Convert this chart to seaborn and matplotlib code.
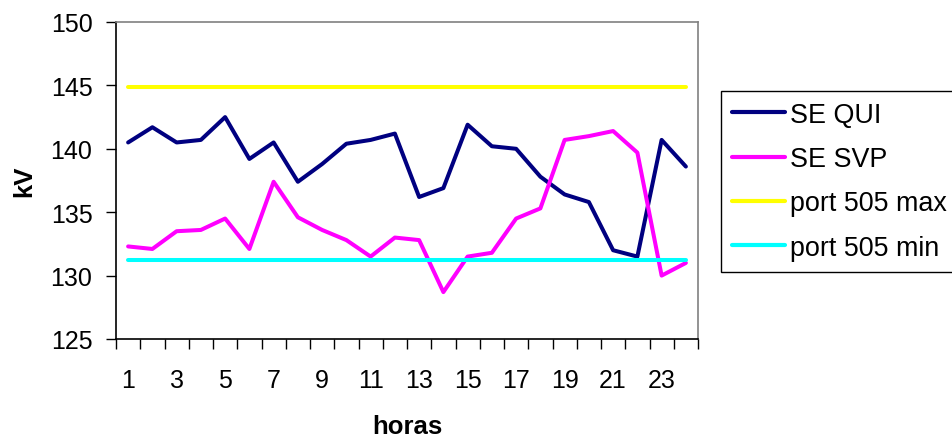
import matplotlib
matplotlib.use("Agg")
import matplotlib.pyplot as plt
import numpy as np
import pandas as pd
import seaborn as sns

# Hourly voltage readings (kV)
horas = list(range(1, 25))
se_qui = [140.5, 141.7, 140.5, 140.7, 142.5, 139.2, 140.5, 137.4, 138.8, 140.4,
          140.7, 141.2, 136.2, 136.9, 141.9, 140.2, 140.0, 137.8, 136.4, 135.8,
          132.0, 131.5, 140.7, 138.6]
se_svp = [132.3, 132.1, 133.5, 133.6, 134.5, 132.1, 137.4, 134.6, 133.6, 132.8,
          131.5, 133.0, 132.8, 128.7, 131.5, 131.8, 134.5, 135.3, 140.7, 141.0,
          141.4, 139.7, 130.0, 131.0]
limite_max = 144.9
limite_min = 131.2

series = ["SE QUI", "SE SVP", "port 505 max", "port 505 min"]
cores = ["#000080", "#FF00FF", "#FFFF00", "#00FFFF"]
xtick_labels = [str(h) for h in range(1, 24, 2)]

valores = {
    "SE QUI": se_qui,
    "SE SVP": se_svp,
    "port 505 max": [limite_max] * len(horas),
    "port 505 min": [limite_min] * len(horas),
}
df = pd.concat(
    [pd.DataFrame({"hora": horas, "kV": v, "serie": nome}) for nome, v in valores.items()],
    ignore_index=True,
)

sns.set_style("white")
plt.rcParams["font.family"] = ["Liberation Sans", "DejaVu Sans"]
plt.rcParams["text.color"] = "black"
plt.rcParams["axes.labelcolor"] = "black"

fig = plt.figure(figsize=(9.52, 4.39), dpi=100)
ax = fig.add_axes([116 / 952, 99 / 439, 582 / 952, 317 / 439])

sns.lineplot(data=df, x="hora", y="kV", hue="serie", hue_order=series,
             palette=cores, linewidth=2.9, ax=ax, legend=True)

ax.set_xlim(0.5, 24.5)
ax.set_ylim(125, 150)
ax.set_yticks(np.arange(125, 151, 5))
ax.set_xticks(range(1, 24, 2))
ax.set_xticklabels(xtick_labels)
ax.set_xticks(np.arange(0.5, 25, 1), minor=True)

ax.tick_params(axis="both", which="both", labelsize=18, colors="black",
               direction="out", width=1)
ax.tick_params(axis="x", which="major", bottom=True, length=0, pad=21)
ax.tick_params(axis="x", which="minor", bottom=True, length=7)
ax.tick_params(axis="y", which="major", left=True, length=7, pad=10)

for lado in ("left", "bottom"):
    ax.spines[lado].set_color("black")
    ax.spines[lado].set_linewidth(1.2)
for lado in ("top", "right"):
    ax.spines[lado].set_color("#808080")
    ax.spines[lado].set_linewidth(1.2)

ax.set_xlabel("horas", fontsize=18.5, fontweight="bold", color="black")
ax.set_ylabel("kV", fontsize=18.5, fontweight="bold", color="black")
ax.xaxis.set_label_coords(0.5, -0.237)
ax.yaxis.set_label_coords(-0.137, 0.5)

handles, labels = ax.get_legend_handles_labels()
ax.legend(handles, labels, loc="upper left",
          bbox_to_anchor=(721 / 952, 1 - 92 / 439), bbox_transform=fig.transFigure,
          borderaxespad=0, fontsize=19.4, frameon=True, fancybox=False,
          edgecolor="black", framealpha=1, handlelength=1.96,
          handletextpad=0.19, labelspacing=0.68, borderpad=0.4,
          labelcolor="black")
leg = ax.get_legend()
leg.get_frame().set_linewidth(1.0)
for linha in leg.get_lines():
    linha.set_linewidth(3)

fig.savefig("out.png", dpi=100)
